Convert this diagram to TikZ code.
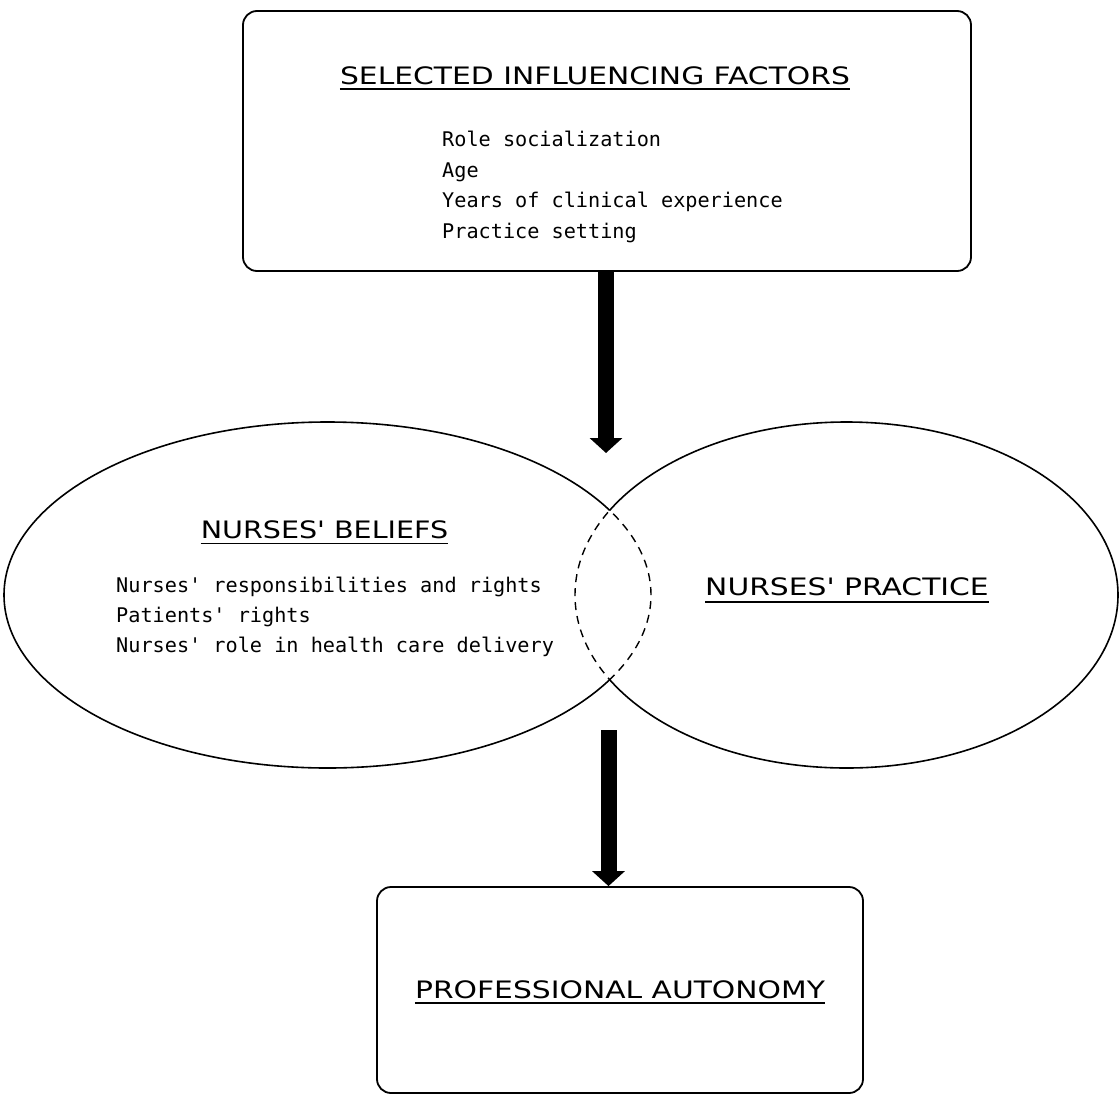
\documentclass[tikz,border=0pt]{standalone}
\usepackage{fontspec}
\setmainfont{DejaVu Sans}
\newfontfamily\bodyfont{DejaVu Sans Mono}
\newfontfamily\titlefont[FakeStretch=1.24]{DejaVu Sans}
\newfontfamily\titlefontb[FakeStretch=1.19]{DejaVu Sans}
\usetikzlibrary{arrows.meta,shapes.geometric}
\begin{document}
\begin{tikzpicture}[x=1pt,y=-1pt,
  box/.style={draw, line width=1.8pt, rounded corners=14pt, inner sep=0pt},
  titletext/.style={inner sep=0pt, anchor=base, font=\titlefont\fontsize{24}{24}\selectfont},
  item/.style={inner sep=0pt, anchor=base west, font=\bodyfont\fontsize{20.2}{24}\selectfont},
  uline/.style={line width=1.8pt},
  bigarrow/.style={line width=16pt, -{Triangle[width=32pt,length=15pt]}},
  outline/.style={line width=1.6pt},
  dashline/.style={line width=1.4pt, dash pattern=on 8pt off 6pt},
  region/.style={ellipse, inner sep=0pt, draw=none}
]
\useasboundingbox (0,0) rectangle (1119,1095);

% boxes
\node[box, minimum width=728pt, minimum height=260pt] (topbox) at (607,141) {};
\node[box, minimum width=486pt, minimum height=206pt] (botbox) at (620,990) {};

% ellipse regions
\node[region, minimum width=647pt, minimum height=346pt] (beliefs) at (327.5,595) {};
\node[region, minimum width=543pt, minimum height=346pt] (practice) at (846.5,595) {};

% solid outer parts
\begin{scope}[even odd rule]
  \clip (-20,-20) rectangle (1140,1120) (practice.center) ellipse [x radius=271.5pt, y radius=173pt];
  \draw[outline] (beliefs.center) ellipse [x radius=323.5pt, y radius=173pt];
\end{scope}
\begin{scope}[even odd rule]
  \clip (-20,-20) rectangle (1140,1120) (beliefs.center) ellipse [x radius=323.5pt, y radius=173pt];
  \draw[outline] (practice.center) ellipse [x radius=271.5pt, y radius=173pt];
\end{scope}
% dashed inner parts
\begin{scope}
  \clip (practice.center) ellipse [x radius=271.5pt, y radius=173pt];
  \draw[dashline] (beliefs.center) ellipse [x radius=323.5pt, y radius=173pt];
\end{scope}
\begin{scope}
  \clip (beliefs.center) ellipse [x radius=323.5pt, y radius=173pt];
  \draw[dashline] (practice.center) ellipse [x radius=271.5pt, y radius=173pt];
\end{scope}

% titles
\node[titletext] (t1) at (595,84) {SELECTED INFLUENCING FACTORS};
\node[titletext, font=\titlefontb\fontsize{24}{24}\selectfont] (t2) at (324.5,538.5) {NURSES' BELIEFS};
\node[titletext] (t3) at (847,595) {NURSES' PRACTICE};
\node[titletext] (t4) at (620,998) {PROFESSIONAL AUTONOMY};
\foreach \t/\d in {t1/5,t2/5,t3/7,t4/5}
  \draw[uline] ([yshift=-\d pt]\t.base west) -- ([yshift=-\d pt]\t.base east);

% items
\node[item] (f1) at (442,146.5) {Role socialization};
\node[item] (f2) at (442,177) {Age};
\node[item] (f3) at (442,207.5) {Years of clinical experience};
\node[item] (f4) at (442,238) {Practice setting};
\node[item] (b1) at (116,592) {Nurses' responsibilities and rights};
\node[item] (b2) at (116,622) {Patients' rights};
\node[item] (b3) at (116,652) {Nurses' role in health care delivery};

% arrows
\coordinate (a1tip) at (606,453);
\draw[bigarrow] (topbox.south -| a1tip) -- (a1tip);
\coordinate (a2start) at (608.5,730);
\draw[bigarrow] (a2start) -- (a2start |- botbox.north);
\end{tikzpicture}
\end{document}
